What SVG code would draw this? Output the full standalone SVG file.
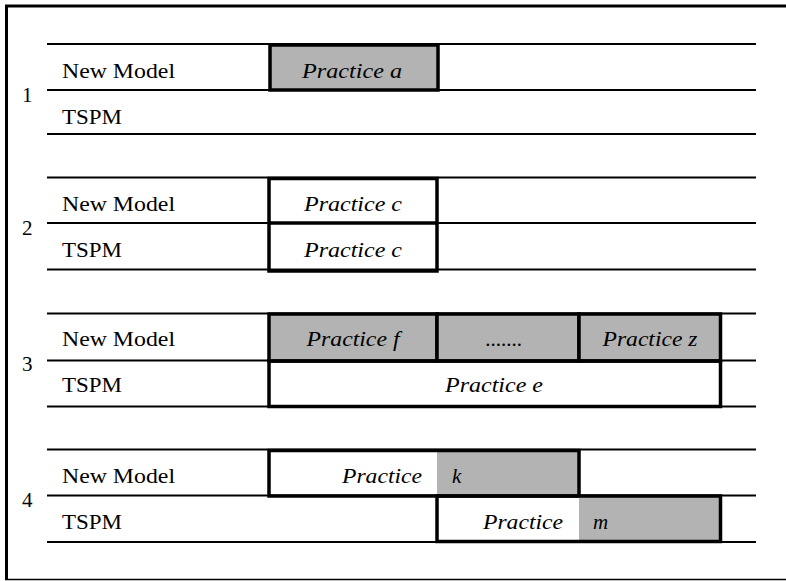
<svg xmlns="http://www.w3.org/2000/svg" width="786" height="581" viewBox="0 0 786 581">
  <style>
    .frame { stroke: #000; fill: none; }
    .rule { stroke: #000; stroke-width: 2; fill: none; }
    .box { stroke: #000; stroke-width: 3.5; fill: none; }
    .shade { fill: #b3b3b3; stroke: none; }
    text { font-family: 'Liberation Serif', 'DejaVu Serif', serif; font-size: 21px; fill: #000; }
    .prc { font-style: italic; }
  </style>

  <!-- outer frame: heavy top and left edges, light bottom edge -->
  <g id="frame">
    <line class="frame" x1="5" y1="6" x2="786" y2="6" stroke-width="3"/>
    <line class="frame" x1="6.5" y1="5" x2="6.5" y2="580" stroke-width="3"/>
    <line class="frame" x1="5" y1="579.5" x2="786" y2="579.5" stroke-width="1.5"/>
  </g>

  <!-- table rules for each comparison row -->
  <g id="connectors">
    <line class="rule" x1="47" y1="44" x2="756" y2="44"/>
    <line class="rule" x1="47" y1="90" x2="756" y2="90"/>
    <line class="rule" x1="47" y1="134" x2="756" y2="134"/>

    <line class="rule" x1="47" y1="177.5" x2="756" y2="177.5"/>
    <line class="rule" x1="47" y1="223" x2="756" y2="223"/>
    <line class="rule" x1="47" y1="269.5" x2="756" y2="269.5" stroke-width="1.5"/>

    <line class="rule" x1="47" y1="313.5" x2="756" y2="313.5"/>
    <line class="rule" x1="47" y1="360.5" x2="756" y2="360.5"/>
    <line class="rule" x1="47" y1="406.5" x2="756" y2="406.5" stroke-width="1.5"/>

    <line class="rule" x1="47" y1="449.5" x2="756" y2="449.5"/>
    <line class="rule" x1="47" y1="495.5" x2="756" y2="495.5"/>
    <line class="rule" x1="47" y1="542" x2="756" y2="542" stroke-width="1.5"/>
  </g>

  <!-- case 1 -->
  <g id="case1" font-family="Liberation Serif, serif">
    <text x="22" y="102">1</text>
    <text x="62" y="78" textLength="113" lengthAdjust="spacingAndGlyphs">New Model</text>
    <text x="62" y="124" textLength="60" lengthAdjust="spacingAndGlyphs">TSPM</text>
    <g id="practice-a">
      <rect class="shade" x="270" y="45" width="168" height="45"/>
      <rect class="box" x="270" y="45" width="168" height="45"/>
      <text class="prc" x="352" y="78" text-anchor="middle" textLength="100" lengthAdjust="spacingAndGlyphs">Practice a</text>
    </g>
  </g>

  <!-- case 2 -->
  <g id="case2">
    <text x="22" y="235">2</text>
    <text x="62" y="211" textLength="113" lengthAdjust="spacingAndGlyphs">New Model</text>
    <text x="62" y="257" textLength="60" lengthAdjust="spacingAndGlyphs">TSPM</text>
    <g id="practice-c">
      <rect class="box" x="269" y="178.5" width="168" height="92.5"/>
      <line class="box" x1="269" y1="223" x2="437" y2="223"/>
      <text class="prc" x="353" y="211" text-anchor="middle" textLength="98" lengthAdjust="spacingAndGlyphs">Practice c</text>
      <text class="prc" x="353" y="257" text-anchor="middle" textLength="98" lengthAdjust="spacingAndGlyphs">Practice c</text>
    </g>
  </g>

  <!-- case 3 -->
  <g id="case3">
    <text x="22" y="371">3</text>
    <text x="62" y="346" textLength="113" lengthAdjust="spacingAndGlyphs">New Model</text>
    <text x="62" y="392" textLength="60" lengthAdjust="spacingAndGlyphs">TSPM</text>
    <g id="practice-f">
      <rect class="shade" x="269" y="314" width="168" height="47"/>
      <rect class="box" x="269" y="314" width="168" height="47"/>
      <text class="prc" x="353" y="346" text-anchor="middle" textLength="93" lengthAdjust="spacingAndGlyphs">Practice f</text>
    </g>
    <g id="practice-dots">
      <rect class="shade" x="437" y="314" width="142" height="47"/>
      <rect class="box" x="437" y="314" width="142" height="47"/>
      <text class="prc" x="504" y="346" text-anchor="middle" fill="#333">.......</text>
    </g>
    <g id="practice-z">
      <rect class="shade" x="579" y="314" width="141.5" height="47"/>
      <rect class="box" x="579" y="314" width="141.5" height="47"/>
      <text class="prc" x="650" y="346" text-anchor="middle" textLength="95" lengthAdjust="spacingAndGlyphs">Practice z</text>
    </g>
    <g id="practice-e">
      <rect class="box" x="269" y="361" width="451.5" height="45.5"/>
      <text class="prc" x="494" y="392" text-anchor="middle" textLength="98" lengthAdjust="spacingAndGlyphs">Practice e</text>
    </g>
  </g>

  <!-- case 4 -->
  <g id="case4">
    <text x="22" y="507">4</text>
    <text x="62" y="483" textLength="113" lengthAdjust="spacingAndGlyphs">New Model</text>
    <text x="62" y="529" textLength="60" lengthAdjust="spacingAndGlyphs">TSPM</text>
    <g id="practice-k">
      <rect class="shade" x="437" y="450.5" width="142" height="45.5"/>
      <rect class="box" x="269" y="450.5" width="310" height="45.5"/>
      <text class="prc" x="422" y="483" text-anchor="end" textLength="80" lengthAdjust="spacingAndGlyphs">Practice</text>
      <text class="prc" x="452" y="483">k</text>
    </g>
    <g id="practice-m">
      <rect class="shade" x="579" y="496" width="141.5" height="45.5"/>
      <rect class="box" x="437" y="496" width="283.5" height="45.5"/>
      <text class="prc" x="563" y="529" text-anchor="end" textLength="80" lengthAdjust="spacingAndGlyphs">Practice</text>
      <text class="prc" x="593" y="529">m</text>
    </g>
  </g>
</svg>
